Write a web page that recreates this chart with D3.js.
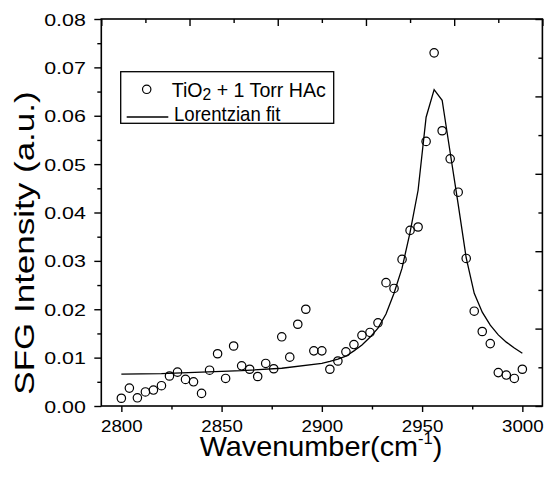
<!DOCTYPE html>
<html>
<head>
<meta charset="utf-8">
<script src="https://cdn.jsdelivr.net/npm/d3@7"></script>
<style>
  body { margin: 0; background: #fff; }
  text { font-family: "Liberation Sans", Arial, sans-serif; fill: #000; }
</style>
</head>
<body>
<svg id="chart" width="544" height="479"></svg>
<script>
// Measured SFG spectrum (wavenumber in cm^-1, intensity in a.u.)
const wavenumber = [2800, 2804, 2808, 2812, 2816, 2820, 2824, 2828, 2832, 2836,
  2840, 2844, 2848, 2852, 2856, 2860, 2864, 2868, 2872, 2876,
  2880, 2884, 2888, 2892, 2896, 2900, 2904, 2908, 2912, 2916,
  2920, 2924, 2928, 2932, 2936, 2940, 2944, 2948, 2952, 2956,
  2960, 2964, 2968, 2972, 2976, 2980, 2984, 2988, 2992, 2996, 3000];
const intensity = [0.0016, 0.0037, 0.0017, 0.0029, 0.0033, 0.0042, 0.0062, 0.0070, 0.0055, 0.0050,
  0.0026, 0.0074, 0.0108, 0.0057, 0.0124, 0.0083, 0.0076, 0.0061, 0.0088, 0.0077,
  0.0143, 0.0101, 0.0169, 0.0200, 0.0114, 0.0114, 0.0076, 0.0093, 0.0112, 0.0127,
  0.0146, 0.0152, 0.0172, 0.0255, 0.0243, 0.0303, 0.0363, 0.0370, 0.0547, 0.0730,
  0.0569, 0.0511, 0.0442, 0.0305, 0.0196, 0.0154, 0.0129, 0.0069, 0.0064, 0.0057, 0.0076];

// Lorentzian fit curve
const fitWavenumber = [2800, 2820, 2840, 2860, 2880, 2900, 2904, 2908, 2912, 2916,
  2920, 2924, 2928, 2932, 2936, 2940, 2944, 2948, 2952, 2956,
  2960, 2964, 2968, 2972, 2976, 2980, 2984, 2988, 2992, 2996, 3000];
const fitIntensity = [0.0066, 0.0067, 0.0070, 0.0073, 0.0078, 0.0088, 0.0092, 0.0097, 0.0103, 0.0114,
  0.0126, 0.0142, 0.0161, 0.0190, 0.0233, 0.0285, 0.0359, 0.0446, 0.0597, 0.0654,
  0.0632, 0.0524, 0.0417, 0.0306, 0.0233, 0.0194, 0.0167, 0.0147, 0.0132, 0.0120, 0.0109];

const xTicks = [2800, 2850, 2900, 2950, 3000];
const xTickLabels = ["2800", "2850", "2900", "2950", "3000"];
const xMinorTicks = [2825, 2875, 2925, 2975];
const yTicks = [0, 0.01, 0.02, 0.03, 0.04, 0.05, 0.06, 0.07, 0.08];
const yTickLabels = ["0.00", "0.01", "0.02", "0.03", "0.04", "0.05", "0.06", "0.07", "0.08"];
const yMinorTicks = [0.005, 0.015, 0.025, 0.035, 0.045, 0.055, 0.065, 0.075];
// Opposite-side axes carry plain divisions (5 major, 10 minor) with no labels
const frameDivisions = [0, 1, 2, 3, 4, 5, 6, 7, 8, 9, 10];

const legendLabels = ["TiO", "2", " + 1 Torr HAc", "Lorentzian fit"];
const xTitle = ["Wavenumber(cm", "-1", ")"];
const yTitle = "SFG Intensity (a.u.)";

const svg = d3.select("#chart");
const plotLeft = 101.3, plotRight = 542.4, plotTop = 19, plotBottom = 406;

const x = d3.scaleLinear().domain([2790, 3010]).range([plotLeft, plotRight]);
const y = d3.scaleLinear().domain([0, 0.08]).range([plotBottom, plotTop]);
const xDiv = d3.scaleLinear().domain([0, 10]).range([plotLeft, plotRight]);
const yDiv = d3.scaleLinear().domain([0, 10]).range([plotBottom, plotTop]);

function styleTicks(g) {
  g.select(".domain").remove();
  g.selectAll(".tick line").attr("stroke", "#000").attr("stroke-width", 1.4);
}

// Bottom axis
svg.append("g").attr("transform", `translate(0,${plotBottom})`)
  .call(d3.axisBottom(x).tickValues(xMinorTicks).tickSize(3.5).tickFormat(""))
  .call(styleTicks);
const gx = svg.append("g").attr("transform", `translate(0,${plotBottom})`)
  .call(d3.axisBottom(x).tickValues(xTicks).tickSize(6).tickFormat((d, i) => xTickLabels[i]))
  .call(styleTicks);
gx.selectAll(".tick text")
  .attr("y", 25.8).attr("dy", null)
  .style("font-size", "16px")
  .attr("transform", "scale(1.17,1)");

// Left axis
svg.append("g").attr("transform", `translate(${plotLeft},0)`)
  .call(d3.axisLeft(y).tickValues(yMinorTicks).tickSize(4).tickFormat(""))
  .call(styleTicks);
const gy = svg.append("g").attr("transform", `translate(${plotLeft},0)`)
  .call(d3.axisLeft(y).tickValues(yTicks).tickSize(7).tickFormat((d, i) => yTickLabels[i]))
  .call(styleTicks);
gy.selectAll(".tick text")
  .attr("x", -15.5 / 1.26).attr("y", 6).attr("dy", null)
  .style("font-size", "17px")
  .attr("transform", "scale(1.26,1)");

// Top and right axes, ticks pointing inward
svg.append("g").attr("transform", `translate(0,${plotTop})`)
  .call(d3.axisTop(xDiv).tickValues(frameDivisions).tickFormat("").tickSize(0))
  .call(styleTicks)
  .selectAll(".tick line").attr("y2", d => d % 2 === 0 ? 7 : 4);
svg.append("g").attr("transform", `translate(${plotRight},0)`)
  .call(d3.axisRight(yDiv).tickValues(frameDivisions).tickFormat("").tickSize(0))
  .call(styleTicks)
  .selectAll(".tick line").attr("x2", d => d % 2 === 0 ? -7 : -4);

// Frame
svg.append("rect")
  .attr("x", plotLeft).attr("y", plotTop)
  .attr("width", plotRight - plotLeft).attr("height", plotBottom - plotTop)
  .attr("fill", "none").attr("stroke", "#000").attr("stroke-width", 1.6);

// Fit line
const line = d3.line().x(d => x(d[0])).y(d => y(d[1]));
svg.append("path")
  .datum(fitWavenumber.map((w, i) => [w, fitIntensity[i]]))
  .attr("d", line)
  .attr("fill", "none").attr("stroke", "#000").attr("stroke-width", 1.3);

// Data points
svg.append("g").selectAll("circle")
  .data(wavenumber.map((w, i) => [w, intensity[i]]))
  .join("circle")
  .attr("cx", d => x(d[0])).attr("cy", d => y(d[1]))
  .attr("r", 4.2)
  .attr("fill", "none").attr("stroke", "#000").attr("stroke-width", 1.2);

// Legend
const lg = svg.append("g");
lg.append("rect").attr("x", 120.7).attr("y", 71.7).attr("width", 213).attr("height", 51.6)
  .attr("fill", "#fff").attr("stroke", "#000").attr("stroke-width", 1.3);
lg.append("circle").attr("cx", 146.7).attr("cy", 89.3).attr("r", 4.2)
  .attr("fill", "none").attr("stroke", "#000").attr("stroke-width", 1.2);
lg.append("line").attr("x1", 126.7).attr("x2", 168.3).attr("y1", 117).attr("y2", 117)
  .attr("stroke", "#000").attr("stroke-width", 1.3);
const t1 = lg.append("text").attr("transform", "translate(171.7,96.7) scale(0.98,1)")
  .style("font-size", "20px");
t1.append("tspan").text(legendLabels[0]);
t1.append("tspan").text(legendLabels[1]).attr("dy", 3).style("font-size", "16px");
t1.append("tspan").text(legendLabels[2]).attr("dy", -3);
lg.append("text").attr("transform", "translate(174,120.5) scale(0.93,1)")
  .style("font-size", "20px").text(legendLabels[3]);

// Axis titles
const xt = svg.append("text").attr("transform", "translate(321,456) scale(1.03,1)")
  .attr("text-anchor", "middle").style("font-size", "28px");
xt.append("tspan").text(xTitle[0]);
xt.append("tspan").text(xTitle[1]).attr("dy", -12).style("font-size", "16px");
xt.append("tspan").text(xTitle[2]).attr("dy", 12);

svg.append("text")
  .attr("transform", "translate(33.5,243) rotate(-90) scale(1.25,1)")
  .attr("text-anchor", "middle").style("font-size", "28px")
  .text(yTitle);
</script>
</body>
</html>
